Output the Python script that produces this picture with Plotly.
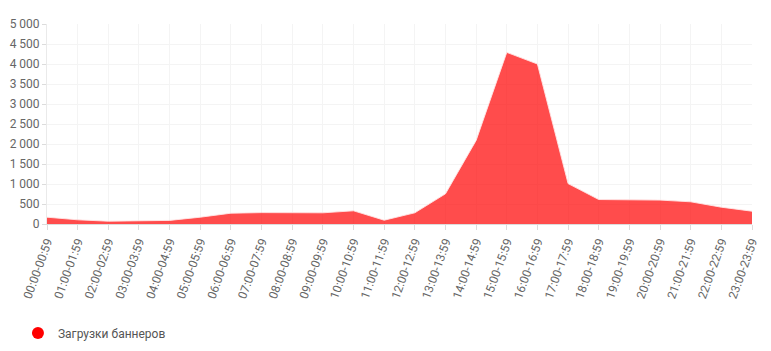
import plotly.graph_objects as go

hours = [f"{h:02d}:00-{h:02d}:59" for h in range(24)]
values = [170, 105, 70, 85, 90, 170, 270, 285, 290, 280, 330, 95,
          280, 755, 2090, 4290, 4000, 1010, 612, 598, 598, 555, 420, 320]
series_name = "Загрузки баннеров"
y_ticks = [0, 500, 1000, 1500, 2000, 2500, 3000, 3500, 4000, 4500, 5000]

fig = go.Figure()
fig.add_trace(go.Scatter(
    x=hours, y=values, mode="lines", fill="tozeroy",
    line=dict(color="rgba(255,230,230,0.9)", width=1),
    fillcolor="rgba(255,0,0,0.7)", showlegend=False, hoverinfo="x+y",
))
fig.add_trace(go.Scatter(
    x=[None], y=[None], mode="markers", name=series_name,
    marker=dict(color="#ff0000", size=15, symbol="circle"),
))

fig.update_layout(
    width=771, height=351,
    margin=dict(l=47, r=19, t=24, b=127, autoexpand=False),
    plot_bgcolor="white", paper_bgcolor="white",
    separators=". ",
    font=dict(family="Roboto", color="#666", size=12),
    showlegend=True,
    legend=dict(xref="container", yref="container", x=0.0233, y=0.0513,
                xanchor="left", yanchor="middle",
                font=dict(size=12, color="#555"), itemsizing="constant"),
    xaxis=dict(
        type="category", range=[0, 23], tickangle=-70, automargin=False,
        showgrid=True, gridcolor="#f4f4f4", gridwidth=1,
        showline=True, linecolor="#dcdcdc", linewidth=1,
        ticks="outside", ticklen=5, tickcolor="#dcdcdc",
        tickfont=dict(size=12, color="#666"),
        zeroline=False,
    ),
    yaxis=dict(
        range=[0, 5000], tickvals=y_ticks, tickformat=",d", automargin=False,
        showgrid=True, gridcolor="#f4f4f4", gridwidth=1,
        showline=True, linecolor="#eaeaea", linewidth=1,
        ticks="outside", ticklen=4, tickcolor="#dcdcdc",
        tickfont=dict(size=12, color="#666"),
        zeroline=False,
    ),
)

fig.write_html("out.html")
